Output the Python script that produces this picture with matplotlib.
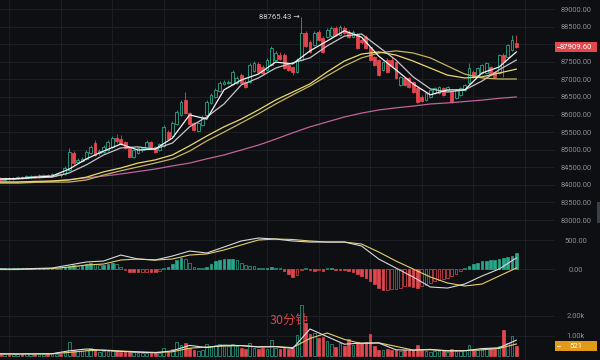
import numpy as np
import matplotlib.pyplot as plt
from matplotlib.patches import Rectangle
from matplotlib.transforms import blended_transform_factory

plt.rcParams['font.family'] = ['Roboto', 'DejaVu Sans']

# ---- 30 minute candles (index 0..120) ----
opens = [84195, 84138, 84195, 84167, 84195, 84224, 84195, 84224, 84252, 84224,
         84252, 84281, 84252, 84281, 84309, 84309, 84423, 84906, 84650, 84679,
         84736, 84906, 85191, 84906, 84935, 84992, 85077, 85333, 85304, 85219,
         85049, 84793, 84906, 84992, 85049, 85219, 85077, 84992, 85105, 85503,
         85390, 85731, 85986, 86413, 86043, 85759, 85532, 85702, 85986, 86327,
         86498, 86669, 86868, 86896, 86868, 86896, 87124, 86925, 86925, 87238,
         87437, 87351, 87266, 87408, 87550, 87692, 87692, 87408, 87351, 87210,
         87550, 88318, 88062, 87977, 88346, 88176, 88204, 88233, 88460, 88261,
         88460, 88346, 88204, 88261, 88119, 88204, 87920, 87636, 87550, 87266,
         87550, 87550, 87493, 86839, 87039, 87039, 86925, 86754, 86498, 86413,
         86498, 86612, 86612, 86754, 86697, 86640, 86470, 86555, 86697, 86896,
         87210, 87124, 87181, 87181, 87351, 87210, 87181, 87692, 87636, 87834, 88034]
closes = [84138, 84195, 84167, 84195, 84224, 84195, 84252, 84252, 84224, 84281,
          84281, 84252, 84309, 84309, 84270, 84480, 84935, 84622, 84707, 84736,
          84935, 85077, 84849, 84963, 85077, 85219, 85333, 85248, 85162, 85049,
          84793, 84992, 85049, 85049, 85219, 85049, 84935, 85162, 85646, 85304,
          85759, 86072, 86356, 86043, 85731, 85560, 85759, 85930, 86356, 86555,
          86697, 86896, 86925, 86925, 87210, 87039, 86896, 86783, 87408, 87465,
          87210, 87181, 87550, 87891, 87749, 87579, 87323, 87266, 87210, 87550,
          88318, 87948, 87778, 88318, 88119, 87778, 88403, 88460, 88261, 88488,
          88318, 88204, 88346, 87891, 88062, 87891, 87550, 87408, 87124, 87493,
          87210, 87380, 87039, 87067, 86839, 86783, 86640, 86356, 86385, 86612,
          86697, 86754, 86783, 86555, 86783, 86356, 86697, 86754, 86839, 87323,
          87067, 87323, 87408, 87465, 87124, 87067, 87692, 87493, 87977, 88119, 87909.60]
highs = [84224, 84224, 84224, 84220, 84250, 84250, 84280, 84280, 84280, 84310,
         84310, 84310, 84338, 84340, 84338, 84537, 85049, 84963, 84764, 84793,
         84992, 85134, 85276, 85020, 85134, 85276, 85390, 85446, 85418, 85248,
         85077, 85020, 85077, 85077, 85276, 85248, 85105, 85191, 85702, 85560,
         85816, 86129, 86413, 86640, 86072, 85787, 85787, 85986, 86413, 86612,
         86754, 86950, 86982, 86982, 87266, 87096, 87181, 86982, 87465, 87520,
         87493, 87408, 87607, 87948, 87806, 87778, 87749, 87437, 87380, 87607,
         88765.43, 88375, 88119, 88375, 88403, 88233, 88460, 88517, 88517, 88545,
         88517, 88403, 88403, 88318, 88176, 88261, 87948, 87664, 87579, 87521,
         87607, 87636, 87521, 87096, 87067, 87067, 86954, 86783, 86555, 86640,
         86726, 86783, 86810, 86783, 86810, 86669, 86726, 86783, 86868, 87465,
         87266, 87351, 87437, 87493, 87380, 87238, 87720, 87749, 88006, 88261, 88261]
lows = [84110, 84110, 84138, 84140, 84170, 84170, 84170, 84195, 84195, 84195,
        84224, 84224, 84224, 84252, 84224, 84281, 84394, 84565, 84622, 84650,
        84707, 84878, 84821, 84849, 84906, 84963, 85049, 85191, 85134, 85020,
        84764, 84764, 84878, 84935, 85020, 85020, 84906, 84963, 85077, 85276,
        85361, 85702, 85958, 86015, 85702, 85532, 85503, 85674, 85958, 86299,
        86470, 86640, 86839, 86868, 86839, 86868, 86868, 86754, 86896, 87210,
        87181, 87124, 87238, 87380, 87521, 87550, 87294, 87238, 87124, 87181,
        87521, 87920, 87749, 87948, 88090, 87749, 88176, 88204, 88233, 88233,
        88290, 88176, 88176, 87863, 88006, 87863, 87521, 87380, 87096, 87238,
        87181, 87351, 87010, 86810, 86810, 86754, 86612, 86327, 86356, 86385,
        86470, 86584, 86584, 86527, 86669, 86327, 86441, 86527, 86669, 86868,
        87039, 87096, 87153, 87153, 87096, 87039, 87153, 87067, 87607, 87806, 87891]
volumes = [120, 80, 100, 90, 110, 100, 130, 90, 110, 120,
           100, 90, 150, 120, 110, 200, 700, 320, 250, 260,
           300, 400, 320, 220, 230, 250, 260, 230, 200, 210,
           220, 180, 150, 140, 170, 160, 180, 150, 420, 200,
           350, 700, 550, 650, 400, 300, 260, 280, 600, 520,
           560, 600, 500, 480, 620, 480, 420, 330, 650, 380,
           350, 400, 330, 800, 420, 350, 400, 330, 400, 1050,
           2550, 1650, 1100, 1150, 900, 950, 750, 600, 450, 650,
           500, 850, 550, 700, 650, 700, 1100, 500, 320, 280,
           350, 300, 300, 250, 320, 280, 300, 550, 320, 250,
           220, 260, 240, 300, 200, 330, 250, 230, 280, 550,
           320, 300, 280, 420, 400, 350, 500, 1300, 650, 1000, 521]
macd_hist = [10, 15, 10, 15, 20, 15, 20, 20, 15, 20,
             25, 20, 25, 20, 15, 30, 60, 70, 60, 70,
             90, 100, 80, 70, 75, 90, 105, 80, 40, -10,
             -50, -55, -60, -50, -45, -50, -55, -40, 15, 40,
             90, 150, 190, 170, 110, 40, 20, 15, 40, 90,
             130, 160, 170, 170, 180, 150, 110, 70, 60, 50,
             20, 15, 25, 30, 20, 10, -40, -90, -130, -100,
             -20, 15, -20, -30, -25, -30, 10, 10, -15, -20,
             -25, -40, -60, -90, -120, -150, -200, -260, -330, -370,
             -360, -350, -340, -320, -300, -300, -310, -330, -300, -270,
             -240, -210, -190, -170, -150, -120, -90, -30, 20, 60,
             90, 110, 130, 140, 150, 160, 170, 190, 210, 230, 270]

# indicator lines, read every 4th candle
line_step = 4
ma5 = [84170, 84180, 84220, 84250, 84450, 84740, 84960, 85160, 84990, 85020,
       85330, 85990, 85870, 86700, 86980, 87150, 87490, 87440, 87810, 88090,
       88380, 88200, 87660, 87270, 86870, 86560, 86700, 86700, 87180, 87350, 87780]
ma10 = [84150, 84170, 84200, 84220, 84340, 84570, 84850, 85050, 85080, 85020,
        85190, 85650, 85930, 86300, 86840, 87040, 87320, 87470, 87610, 87950,
        88230, 88290, 87920, 87550, 87070, 86730, 86640, 86700, 86950, 87270, 87550]
ma30 = [84080, 84080, 84100, 84110, 84140, 84220, 84370, 84480, 84620, 84710,
        84850, 85110, 85390, 85650, 85870, 86130, 86410, 86640, 86870, 87210,
        87520, 87720, 87780, 87690, 87520, 87320, 87120, 87040, 87070, 87180, 87290]
ma60 = [84050, 84050, 84070, 84080, 84080, 84140, 84280, 84400, 84510, 84620,
        84740, 84960, 85250, 85500, 85760, 86020, 86300, 86560, 86810, 87100,
        87380, 87610, 87750, 87810, 87750, 87610, 87380, 87150, 87040, 87010, 87010]
ma_long = [84080, 84080, 84080, 84100, 84150, 84200, 84250, 84310, 84380, 84450,
           84540, 84620, 84740, 84850, 84990, 85130, 85300, 85480, 85650, 85790,
           85930, 86040, 86130, 86190, 86240, 86300, 86330, 86370, 86410, 86460, 86500]
dif = [0, 0, 9, 17, 69, 121, 138, 241, 172, 155,
       224, 310, 276, 379, 483, 534, 517, 483, 465, 465,
       465, 397, 172, 17, -138, -310, -328, -259, -121, 0, 190]
dea = [-9, -9, 0, 9, 34, 69, 86, 155, 172, 155,
       172, 241, 259, 328, 414, 500, 517, 509, 483, 465,
       465, 431, 293, 138, 0, -138, -241, -293, -259, -121, 17]
vol_ma5 = [110, 100, 110, 115, 260, 350, 280, 230, 190, 160,
           260, 530, 420, 540, 520, 450, 470, 380, 1350, 970,
           590, 650, 650, 310, 290, 330, 250, 260, 370, 410, 790]
vol_ma10 = [110, 105, 105, 110, 180, 260, 300, 250, 210, 180,
            210, 390, 450, 500, 520, 460, 470, 420, 880, 1150,
            830, 620, 660, 480, 300, 310, 270, 270, 310, 380, 600]

price_ticks = list(range(83000, 89001, 500))
macd_ticks = [0, 500]
vol_ticks = [1000, 2000]
vol_labels = ['1.00k', '2.00k']
high_label = '88765.43'
period_label = '30分钟'

bg = '#0e0f13'
grid_col = '#1d1f26'
text_col = '#8a8e96'
up = '#2aa58a'
down = '#e2474d'

n = len(opens)
idx = np.arange(n)
line_x = np.arange(0, n, line_step)
grid_x = np.arange(2, 130, 12)


def style_pane(ax, ticks, labels, ylim):
    ax.set_facecolor(bg)
    for s in ax.spines.values():
        s.set_visible(False)
    ax.set_xlim(-0.1, 129)
    ax.set_ylim(*ylim)
    ax.set_xticks(grid_x)
    ax.tick_params(axis='x', length=0, labelbottom=False)
    ax.yaxis.tick_right()
    ax.set_yticks(ticks)
    ax.set_yticklabels(labels)
    ax.tick_params(axis='y', length=0, pad=15, labelsize=5.4, labelcolor=text_col)
    for lab in ax.get_yticklabels():
        lab.set_horizontalalignment('center')
    ax.grid(True, color=grid_col, lw=0.7)
    ax.set_axisbelow(True)


def value_tag(ax, value, text, color, h):
    tr = blended_transform_factory(ax.transAxes, ax.transData)
    ax.add_patch(Rectangle((1.0, value - h / 2), 42 / 555, h, transform=tr,
                           facecolor=color, edgecolor='none', clip_on=False, zorder=6))
    ax.plot([1.003, 1.009], [value, value], transform=tr, color='white', lw=0.6,
            clip_on=False, zorder=7)
    ax.text(1.0 + 21 / 555, value, text, transform=tr, ha='center', va='center',
            fontsize=5.6, color='white', zorder=7)


fig = plt.figure(figsize=(6, 3.6), dpi=100, facecolor=bg)
ax_p = fig.add_axes([0, 132 / 360, 555 / 600, 228 / 360])
ax_m = fig.add_axes([0, 65 / 360, 555 / 600, 67 / 360])
ax_v = fig.add_axes([0, 0, 555 / 600, 65 / 360])

# price pane (the tick hidden under the last-price tag gets no label)
last = closes[-1]
price_labels = ['' if abs(t - last) < 250 else '%.2f' % t for t in price_ticks]
style_pane(ax_p, price_ticks, price_labels, (82774, 89256))
for i in idx:
    o, c = opens[i], closes[i]
    rising = c >= o
    col = up if rising else down
    ax_p.vlines(i, lows[i], highs[i], color=col, lw=0.6, zorder=2)
    ax_p.add_patch(Rectangle((i - 0.33, min(o, c)), 0.66, max(abs(c - o), 10),
                             facecolor=bg if rising else col, edgecolor=col,
                             lw=0.6, zorder=3))
ax_p.plot(line_x, ma_long, color='#c0629b', lw=0.9, zorder=4)
ax_p.plot(line_x, ma60, color='#c4b35c', lw=0.9, zorder=4)
ax_p.plot(line_x, ma30, color='#ecd86c', lw=0.9, zorder=4)
ax_p.plot(line_x, ma10, color='#c9c2cc', lw=0.9, zorder=4)
ax_p.plot(line_x, ma5, color='#f4f4f4', lw=0.9, zorder=4)
top = int(np.argmax(highs))
ax_p.text(top - 0.4, highs[top], high_label + ' →', ha='right', va='center',
          fontsize=5.6, color='#d0d0d0')
value_tag(ax_p, last, '%.2f' % last, down, 284)

# MACD pane
style_pane(ax_m, macd_ticks, ['%.2f' % t for t in macd_ticks], (-448, 707))
prev = 0
for i, h in enumerate(macd_hist):
    col = up if h >= 0 else down
    hollow = abs(h) < abs(prev)
    ax_m.bar(i, h, width=0.62, color=bg if hollow else col, edgecolor=col, lw=0.5, zorder=2)
    prev = h
ax_m.plot(line_x, dea, color='#e3cf6a', lw=0.8, zorder=3)
ax_m.plot(line_x, dif, color='#d8d8d8', lw=0.8, zorder=3)

# volume pane
style_pane(ax_v, vol_ticks, vol_labels, (-200, 3050))
ax_v.text(67.1, 1800, period_label, ha='center', va='center', fontsize=9,
          color='#d8444a', family=['Noto Sans CJK SC', 'DejaVu Sans'], zorder=1)
for i in idx:
    rising = closes[i] >= opens[i]
    col = up if rising else down
    ax_v.bar(i, volumes[i], width=0.62, color=bg if rising else col,
             edgecolor=col, lw=0.5, zorder=2)
ax_v.plot(line_x, vol_ma10, color='#e3cf6a', lw=0.8, zorder=3)
ax_v.plot(line_x, vol_ma5, color='#e0e0e0', lw=0.8, zorder=3)
value_tag(ax_v, volumes[-1], str(volumes[-1]), '#e39a16', 500)

# small collapse tab at the right edge
fig.patches.append(Rectangle((597 / 600, 137 / 360), 3 / 600, 21 / 360,
                             transform=fig.transFigure, facecolor='#3b3e46',
                             edgecolor='none'))

fig.savefig('out.png', dpi=100, facecolor=bg)
